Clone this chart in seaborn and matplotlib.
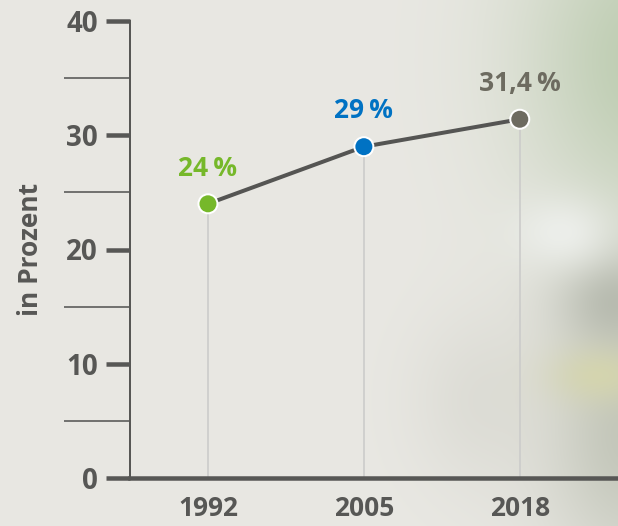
import numpy as np
import matplotlib
matplotlib.use("Agg")
import matplotlib.pyplot as plt
import seaborn as sns

YEARS = ["1992", "2005", "2018"]
VALUES = [24.0, 29.0, 31.4]
LABELS = ["24\u2009%", "29\u2009%", "31,4\u2009%"]
POINT_COLORS = ["#76b82a", "#0072c3", "#6d6b60"]
Y_MAJOR = [0, 10, 20, 30, 40]
Y_MINOR = [5, 15, 25, 35]

INK = "#575755"
W, H = 618, 526
PX = 72 / 100  # points per pixel at dpi 100


def setup_style():
    sns.set_theme(style="white")
    plt.rcParams["font.family"] = ["Open Sans", "DejaVu Sans"]
    plt.rcParams["font.weight"] = "bold"


def background():
    # soft blurred photo look: light grey left, greenish right
    yy, xx = np.mgrid[0:H, 0:W].astype(float)
    base = np.array([233, 232, 227]) / 255.0
    img = np.ones((H, W, 3)) * base

    def blob(cx, cy, sx, sy, color, strength):
        g = np.exp(-(((xx - cx) / sx) ** 2 + ((yy - cy) / sy) ** 2))
        c = np.array(color) / 255.0
        return g[..., None] * strength, c

    blobs = [
        (650, 60, 130, 170, (190, 205, 178), 1.0),
        (630, 430, 90, 140, (188, 192, 178), 0.85),
        (615, 300, 55, 50, (176, 180, 168), 0.8),
        (480, 400, 70, 90, (214, 214, 206), 0.6),
        (600, 375, 50, 28, (214, 214, 172), 0.85),
        (560, 232, 50, 36, (236, 238, 234), 1.0),
    ]
    for cx, cy, sx, sy, color, s in blobs:
        g, c = blob(cx, cy, sx, sy, color, s)
        img = img * (1 - g) + c * g
    return np.clip(img, 0, 1)


def main():
    setup_style()
    fig = plt.figure(figsize=(W / 100, H / 100), dpi=100)

    bg = fig.add_axes([0, 0, 1, 1])
    bg.imshow(background(), aspect="auto", extent=[0, 1, 0, 1], origin="upper")
    bg.axis("off")

    ax = fig.add_axes([130 / W, 1 - 478 / H, (W - 130) / W, (478 - 21) / H])
    ax.patch.set_alpha(0)

    pos = list(range(len(YEARS)))
    ax.vlines(pos, 0, VALUES, color="#cbcbca", lw=1.6 * PX, zorder=1)
    sns.lineplot(x=pos, y=VALUES, color="#555553", lw=4 * PX, ax=ax, zorder=2)
    sns.scatterplot(x=pos, y=VALUES, hue=YEARS, palette=POINT_COLORS, s=(19 * PX) ** 2,
                    edgecolor="white", linewidth=2 * PX, legend=False, ax=ax, zorder=3,
                    clip_on=False)

    for x, y, text, color in zip(pos, VALUES, LABELS, POINT_COLORS):
        ax.annotate(text, (x, y), xytext=(0, 16), textcoords="offset points",
                    ha="center", va="bottom", color=color, fontsize=19, fontweight="bold")

    ax.set_xlim(-0.5, 2.63)
    ax.set_ylim(0, 40)
    ax.set_xticks(pos)
    ax.set_xticklabels(YEARS)
    ax.set_yticks(Y_MAJOR)
    ax.set_yticks(Y_MINOR, minor=True)

    sns.despine(ax=ax)
    ax.spines["left"].set_linewidth(2 * PX)
    ax.spines["left"].set_color(INK)
    ax.spines["bottom"].set_linewidth(4.5 * PX)
    ax.spines["bottom"].set_color(INK)

    ax.tick_params(axis="y", which="major", left=True, length=24 * PX, width=4.5 * PX,
                   color=INK, pad=8 * PX, labelsize=20, labelcolor=INK)
    ax.tick_params(axis="y", which="minor", left=True, length=66 * PX, width=1.6 * PX,
                   color=INK)
    ax.tick_params(axis="x", length=0, pad=12, labelsize=19, labelcolor=INK)
    for lab in ax.get_xticklabels() + ax.get_yticklabels():
        lab.set_fontweight("bold")

    ax.set_xlabel("")
    ax.set_ylabel("in Prozent", fontsize=19, fontweight="bold", color=INK)
    ax.yaxis.set_label_coords(-(130 - 44) / (W - 130), 0.5)

    fig.savefig("out.png", dpi=100)
    plt.close(fig)


if __name__ == "__main__":
    main()
